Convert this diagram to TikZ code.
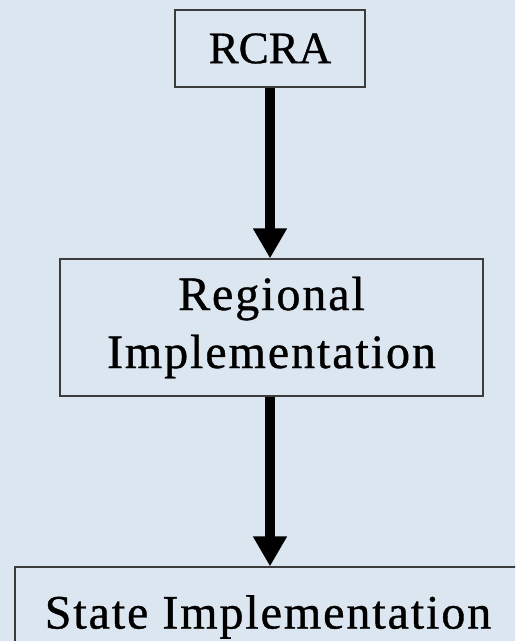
\documentclass[tikz,border=0pt]{standalone}
\usepackage{fontspec}
\setmainfont[FakeBold=0.8]{Liberation Serif}
\newfontfamily\spacedfont[LetterSpace=4, FakeBold=0.8]{Liberation Serif}
\usetikzlibrary{arrows.meta}
\definecolor{bgblue}{RGB}{220,230,241}
\definecolor{boxline}{RGB}{60,60,60}

\begin{document}
\begin{tikzpicture}[x=0.5pt, y=-0.5pt, >={Triangle[length=15pt, width=16pt]},
    box/.style={draw=boxline, line width=0.6pt, fill=bgblue, inner sep=0pt, align=center,
      font=\fontsize{24}{29}\selectfont},
    flow/.style={->, line width=5pt}]
  \fill[bgblue] (0, 0) rectangle (515, 641);
  \clip (0, 0) rectangle (515, 641);
  \useasboundingbox (0, 0) rectangle (515, 641);

  \node[box, minimum width=95pt, minimum height=38.5pt, font=\fontsize{22.5}{27}\selectfont] (rcra) at (270, 48.5) {RCRA};
  \node[box, minimum width=211.5pt, minimum height=68.5pt] (regional) at (271.5, 327.5)
    {\spacedfont Regional\\\spacedfont Implementation};
  \node[box, minimum width=253pt, minimum height=50pt] (state) at (268, 617)
    {\spacedfont State Implementation};

  \draw[flow] (rcra.south) -- (rcra.south |- regional.north);
  \draw[flow] (regional.south -| rcra.south) -- (rcra.south |- state.north);
\end{tikzpicture}
\end{document}
